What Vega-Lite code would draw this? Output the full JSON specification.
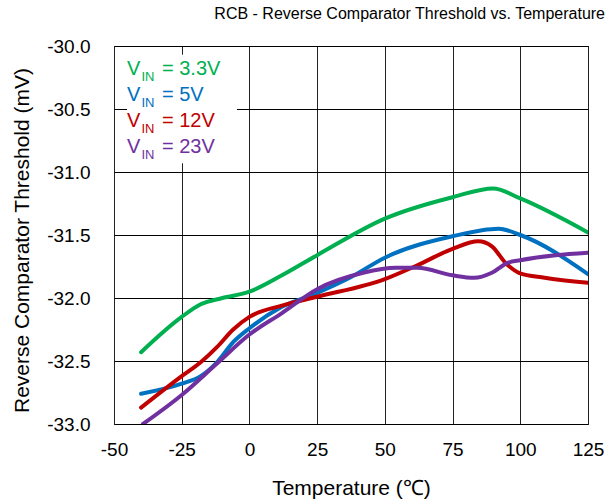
{
  "$schema": "https://vega.github.io/schema/vega-lite/v6.json",
  "width": 474,
  "height": 378,
  "autosize": "none",
  "padding": {"left": 114, "top": 46, "right": 21, "bottom": 80},
  "background": "white",
  "config": {
    "font": "Liberation Sans",
    "view": {"stroke": "#000", "strokeWidth": 1}
  },
  "title": {
    "text": "RCB - Reverse Comparator Threshold vs. Temperature",
    "anchor": "end",
    "frame": "group",
    "dx": 17,
    "offset": 15,
    "fontSize": 16,
    "fontWeight": "normal",
    "color": "#000"
  },
  "datasets": {
    "curves": [
      {"series": "3.3V", "T": -40, "mV": -32.43},
      {"series": "3.3V", "T": -25, "mV": -32.15},
      {"series": "3.3V", "T": -18, "mV": -32.05},
      {"series": "3.3V", "T": -10, "mV": -32.0},
      {"series": "3.3V", "T": 0, "mV": -31.95},
      {"series": "3.3V", "T": 12, "mV": -31.82},
      {"series": "3.3V", "T": 25, "mV": -31.66},
      {"series": "3.3V", "T": 50, "mV": -31.37},
      {"series": "3.3V", "T": 75, "mV": -31.2},
      {"series": "3.3V", "T": 90, "mV": -31.13},
      {"series": "3.3V", "T": 100, "mV": -31.21},
      {"series": "3.3V", "T": 125, "mV": -31.48},
      {"series": "5V", "T": -40, "mV": -32.76},
      {"series": "5V", "T": -25, "mV": -32.68},
      {"series": "5V", "T": -18, "mV": -32.62},
      {"series": "5V", "T": -12, "mV": -32.51},
      {"series": "5V", "T": -6, "mV": -32.35},
      {"series": "5V", "T": 0, "mV": -32.24},
      {"series": "5V", "T": 12, "mV": -32.07},
      {"series": "5V", "T": 25, "mV": -31.96},
      {"series": "5V", "T": 37, "mV": -31.84},
      {"series": "5V", "T": 50, "mV": -31.68},
      {"series": "5V", "T": 75, "mV": -31.51},
      {"series": "5V", "T": 92, "mV": -31.45},
      {"series": "5V", "T": 100, "mV": -31.5},
      {"series": "5V", "T": 125, "mV": -31.81},
      {"series": "12V", "T": -40, "mV": -32.87},
      {"series": "12V", "T": -25, "mV": -32.62},
      {"series": "12V", "T": -18, "mV": -32.51},
      {"series": "12V", "T": -12, "mV": -32.39},
      {"series": "12V", "T": -6, "mV": -32.25},
      {"series": "12V", "T": 0, "mV": -32.15},
      {"series": "12V", "T": 12, "mV": -32.06},
      {"series": "12V", "T": 25, "mV": -31.99},
      {"series": "12V", "T": 50, "mV": -31.85},
      {"series": "12V", "T": 62, "mV": -31.74},
      {"series": "12V", "T": 75, "mV": -31.61},
      {"series": "12V", "T": 84.5, "mV": -31.55},
      {"series": "12V", "T": 89.5, "mV": -31.59},
      {"series": "12V", "T": 94.5, "mV": -31.72},
      {"series": "12V", "T": 99.5, "mV": -31.8},
      {"series": "12V", "T": 109, "mV": -31.84},
      {"series": "12V", "T": 125, "mV": -31.88},
      {"series": "23V", "T": -39.3, "mV": -33.0},
      {"series": "23V", "T": -25, "mV": -32.77},
      {"series": "23V", "T": -12, "mV": -32.52},
      {"series": "23V", "T": 0, "mV": -32.29},
      {"series": "23V", "T": 12, "mV": -32.12},
      {"series": "23V", "T": 25, "mV": -31.93},
      {"series": "23V", "T": 42, "mV": -31.8},
      {"series": "23V", "T": 54, "mV": -31.76},
      {"series": "23V", "T": 62, "mV": -31.76},
      {"series": "23V", "T": 75, "mV": -31.82},
      {"series": "23V", "T": 83, "mV": -31.84},
      {"series": "23V", "T": 89.5, "mV": -31.8},
      {"series": "23V", "T": 95.5, "mV": -31.72},
      {"series": "23V", "T": 100, "mV": -31.7},
      {"series": "23V", "T": 113, "mV": -31.66},
      {"series": "23V", "T": 125, "mV": -31.64}
    ],
    "legend": [
      {"series": "3.3V", "rest": "= 3.3V", "T": -45.2, "mV": -30.23},
      {"series": "5V", "rest": "= 5V", "T": -45.2, "mV": -30.437},
      {"series": "12V", "rest": "= 12V", "T": -45.2, "mV": -30.643},
      {"series": "23V", "rest": "= 23V", "T": -45.2, "mV": -30.849}
    ]
  },
  "layer": [
    {
      "data": {"name": "curves"},
      "mark": {"type": "line", "interpolate": "monotone", "strokeWidth": 4, "strokeCap": "round", "clip": true},
      "encoding": {
        "x": {
          "field": "T", "type": "quantitative",
          "scale": {"domain": [-50, 125], "nice": false},
          "axis": {
            "values": [-50, -25, 0, 25, 50, 75, 100, 125],
            "labelExpr": "replace(format(datum.value, 'd'), '\u2212', '-')",
            "labelFlush": false,
            "labelOverlap": false,
            "title": "Temperature (\u2103)",
            "titleFontSize": 21, "titleFontWeight": "normal", "titleColor": "#000", "titlePadding": 18,
            "labelFontSize": 19, "labelColor": "#000", "labelPadding": 16,
            "ticks": false, "domain": false,
            "grid": true, "gridColor": "#222", "gridWidth": 1, "gridOpacity": 1
          }
        },
        "y": {
          "field": "mV", "type": "quantitative",
          "scale": {"domain": [-33, -30], "nice": false, "zero": false},
          "axis": {
            "values": [-33, -32.5, -32, -31.5, -31, -30.5, -30],
            "labelExpr": "replace(format(datum.value, '.1f'), '\u2212', '-')",
            "labelFlush": false,
            "labelOverlap": false,
            "title": "Reverse Comparator Threshold (mV)",
            "titleFontSize": 21, "titleFontWeight": "normal", "titleColor": "#000",
            "titleX": -82, "titleY": 194, "titleBaseline": "bottom",
            "labelFontSize": 19, "labelColor": "#000", "labelPadding": 24,
            "ticks": false, "domain": false,
            "grid": true, "gridColor": "#000", "gridWidth": 1, "gridOpacity": 1
          }
        },
        "color": {
          "field": "series", "type": "nominal",
          "scale": {"domain": ["3.3V", "5V", "12V", "23V"], "range": ["#00B050", "#0070C0", "#C00000", "#7030A0"]},
          "legend": null
        }
      }
    },
    {
      "data": {"values": [{}]},
      "mark": {"type": "rect", "fill": "white"},
      "encoding": {
        "x": {"datum": -45.2, "type": "quantitative"},
        "x2": {"datum": -4.6},
        "y": {"datum": -30.07, "type": "quantitative"},
        "y2": {"datum": -30.93}
      }
    },
    {
      "data": {"name": "legend"},
      "mark": {"type": "text", "align": "left", "baseline": "alphabetic", "fontSize": 20, "text": "V"},
      "encoding": {
        "x": {"field": "T", "type": "quantitative"},
        "y": {"field": "mV", "type": "quantitative"},
        "color": {"field": "series", "type": "nominal"}
      }
    },
    {
      "data": {"name": "legend"},
      "mark": {"type": "text", "align": "left", "baseline": "alphabetic", "fontSize": 13, "text": "IN", "dx": 14.5, "dy": 6},
      "encoding": {
        "x": {"field": "T", "type": "quantitative"},
        "y": {"field": "mV", "type": "quantitative"},
        "color": {"field": "series", "type": "nominal"}
      }
    },
    {
      "data": {"name": "legend"},
      "mark": {"type": "text", "align": "left", "baseline": "alphabetic", "fontSize": 20, "dx": 35},
      "encoding": {
        "x": {"field": "T", "type": "quantitative"},
        "y": {"field": "mV", "type": "quantitative"},
        "text": {"field": "rest"},
        "color": {"field": "series", "type": "nominal"}
      }
    }
  ]
}
